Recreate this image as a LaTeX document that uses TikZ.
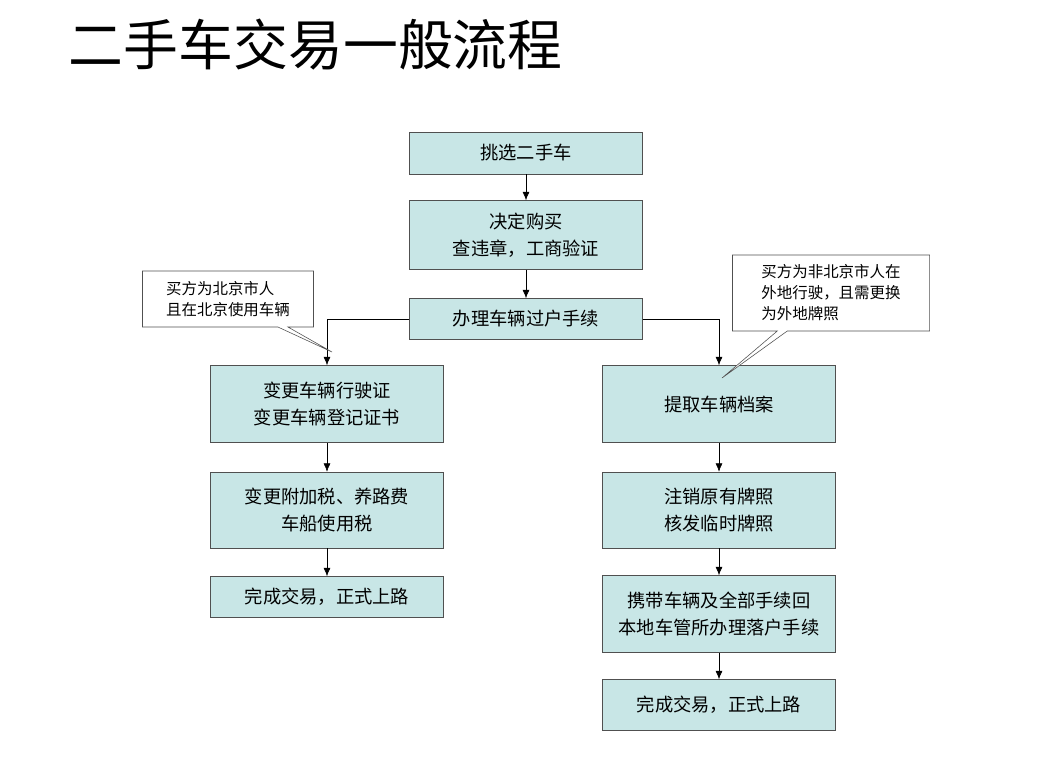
\documentclass[tikz,border=0pt]{standalone}
\usepackage{fontspec}
\setmainfont{Noto Sans CJK SC}
\usetikzlibrary{shapes.callouts,arrows.meta,positioning}
\definecolor{boxfill}{RGB}{200,230,230}
\definecolor{boxline}{RGB}{80,80,80}
\begin{document}
\begin{tikzpicture}[x=0.025cm,y=-0.025cm,
        stage/.style={draw=boxline,fill=boxfill,minimum width=5.825cm,align=center,font=\fontsize{13}{19}\selectfont},
        note/.style={rectangle callout,draw=boxline,fill=white,align=left,font=\fontsize{11}{15}\selectfont,inner sep=3pt},
        flow/.style={-{Latex[length=6pt,width=5pt]},thin}
    ]
        \useasboundingbox (0,0) rectangle (1064,762);
        % title
        \node[anchor=west,font=\fontsize{39}{44}\selectfont] (title) at (64,45) {二手车交易一般流程};

        % main column
        \node[stage,minimum height=1.05cm] (pick) at (526,153) {挑选二手车};
        \node[stage,minimum height=1.725cm] (buy) at (526,235) {决定购买\\查违章，工商验证};
        \node[stage,minimum height=1.025cm] (transfer) at (526,319) {办理车辆过户手续};

        % left branch
        \node[stage,minimum height=1.925cm] (lic) at (327,404) {变更车辆行驶证\\变更车辆登记证书};
        \node[stage,minimum height=1.9cm] (tax) at (327,510) {变更附加税、养路费\\车船使用税};
        \node[stage,minimum height=1.025cm] (doneL) at (327,597) {完成交易，正式上路};

        % right branch
        \node[stage,minimum height=1.925cm] (file) at (719,404) {提取车辆档案};
        \node[stage,minimum height=1.9cm] (plate) at (719,510) {注销原有牌照\\核发临时牌照};
        \node[stage,minimum height=1.925cm] (home) at (719,614) {携带车辆及全部手续回\\本地车管所办理落户手续};
        \node[stage,minimum height=1.275cm] (doneR) at (719,705) {完成交易，正式上路};

        % connectors
        \draw[flow] (pick) -- (buy);
        \draw[flow] (buy) -- (transfer);
        \draw[flow] (transfer.west) -| (lic.north);
        \draw[flow] (transfer.east) -| (file.north);
        \draw[flow] (lic) -- (tax);
        \draw[flow] (tax) -- (doneL);
        \draw[flow] (file) -- (plate);
        \draw[flow] (plate) -- (home);
        \draw[flow] (home) -- (doneR);

        % notes
        \node[note,minimum width=4.275cm,minimum height=1.4cm,callout absolute pointer={(332,352)}] (localnote) at (228,299) {买方为北京市人\\且在北京使用车辆};
        \node[note,minimum width=4.925cm,minimum height=1.9cm,callout absolute pointer={(722,378)}] (othernote) at (831,293) {买方为非北京市人在\\外地行驶，且需更换\\为外地牌照};
\end{tikzpicture}
\end{document}
